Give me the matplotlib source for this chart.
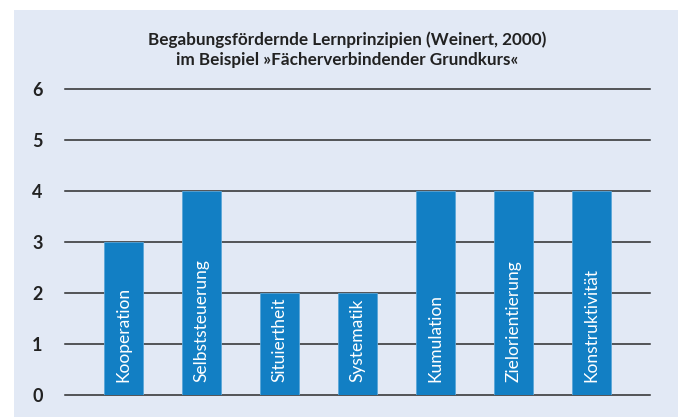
import matplotlib.pyplot as plt
from matplotlib.patches import Rectangle

plt.rcParams['font.family'] = ['Lato', 'DejaVu Sans']

principles = ["Kooperation", "Selbststeuerung", "Situiertheit", "Systematik",
              "Kumulation", "Zielorientierung", "Konstruktivität"]
scores = [3, 4, 2, 2, 4, 4, 4]
yticks = [0, 1, 2, 3, 4, 5, 6]

panel_bg = "#e2e9f5"
bar_blue = "#127fc4"

fig = plt.figure(figsize=(6.78, 4.17), dpi=100)
fig.patch.set_facecolor("white")
# light blue panel behind everything
fig.patches.append(Rectangle((14 / 678, 0), 1, 1 - 10 / 417, transform=fig.transFigure,
                             facecolor=panel_bg, edgecolor="none", zorder=-1))

ax = fig.add_axes([65 / 678, 22 / 417, 585 / 678, 306 / 417])
ax.set_facecolor(panel_bg)
ax.patch.set_alpha(0)

for y in yticks:
    ax.axhline(y, color="#2b2b2b", lw=1.1, zorder=1, clip_on=False)

x = range(len(principles))
ax.bar(x, scores, width=0.5, color=bar_blue, edgecolor="#5aa6d8", linewidth=0.6, zorder=2)

for i, name in enumerate(principles):
    ax.text(i, 0.25, name, rotation=90, ha="center", va="bottom",
            color="white", fontsize=12.5, zorder=3)

ax.set_xlim(-0.75, 6.75)
ax.set_ylim(0, 6)
ax.set_yticks(yticks)
ax.set_yticklabels([str(v) for v in yticks], fontsize=13, fontweight="bold", color="#222222")
ax.tick_params(axis="y", length=0, pad=16)
ax.set_xticks([])
for s in ax.spines.values():
    s.set_visible(False)

fig.text(347 / 678, 1 - 40 / 417, "Begabungsfördernde Lernprinzipien (Weinert, 2000)",
         ha="center", va="center", fontsize=12.3, fontweight="bold", color="#222222")
fig.text(347 / 678, 1 - 60 / 417, "im Beispiel »Fächerverbindender Grundkurs«",
         ha="center", va="center", fontsize=12.3, fontweight="bold", color="#222222")

fig.savefig("out.png", dpi=100)
